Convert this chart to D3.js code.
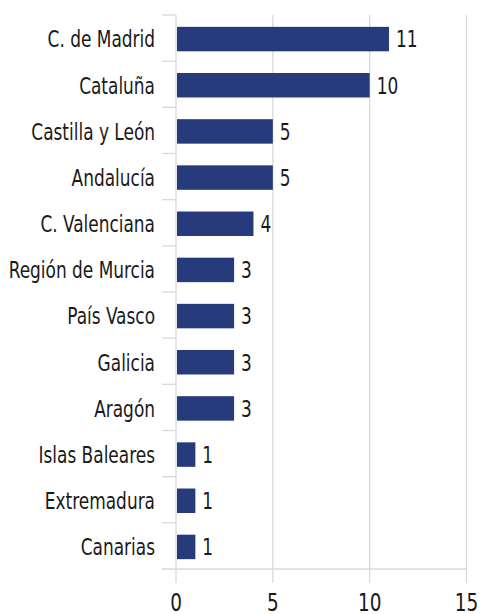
<!DOCTYPE html>
<html><head><meta charset="utf-8">
<script src="https://cdn.jsdelivr.net/npm/d3@7"></script>
<style>
html,body{margin:0;padding:0;background:#fff;}
svg{display:block;}
text{font-family:"DejaVu Sans Condensed","DejaVu Sans",sans-serif;fill:#1a1a1a;}
</style></head>
<body>
<svg id="chart" width="482" height="614"></svg>
<script>
const categories = ["C. de Madrid","Cataluña","Castilla y León","Andalucía","C. Valenciana","Región de Murcia","País Vasco","Galicia","Aragón","Islas Baleares","Extremadura","Canarias"];
const values = [11,10,5,5,4,3,3,3,3,1,1,1];
const xTicks = [0,5,10,15];

const svg = d3.select("#chart");
const x = d3.scaleLinear().domain([0,15]).range([176,466.5]);
const y = d3.scaleBand().domain(categories).range([15,569]).paddingInner(0.47).paddingOuter(0.235);
const grid = "#d9d9d9";
const sx = 0.82;

// vertical gridlines
svg.append("g").selectAll("line").data(xTicks.filter(d=>d>0)).join("line")
  .attr("x1",d=>x(d)).attr("x2",d=>x(d)).attr("y1",15).attr("y2",583)
  .attr("stroke",grid).attr("stroke-width",1.3);

// left axis line
svg.append("line").attr("x1",x(0)).attr("x2",x(0)).attr("y1",15).attr("y2",583)
  .attr("stroke",grid).attr("stroke-width",1.3);
// bottom axis line
svg.append("line").attr("x1",162).attr("x2",x(15)).attr("y1",569).attr("y2",569)
  .attr("stroke",grid).attr("stroke-width",1.3);

// category boundary ticks
const step = y.step();
const bounds = d3.range(categories.length).map(i => y.range()[0] + i*step);
svg.append("g").selectAll("line").data(bounds).join("line")
  .attr("x1",162).attr("x2",x(0)).attr("y1",d=>d).attr("y2",d=>d)
  .attr("stroke",grid).attr("stroke-width",1.3);

// bars
svg.append("g").selectAll("rect").data(values).join("rect")
  .attr("x",x(0)+1).attr("y",(d,i)=>y(categories[i])+1)
  .attr("width",d=>x(d)-x(0)-1).attr("height",y.bandwidth())
  .attr("fill","#263a7c");

// value labels
svg.append("g").selectAll("text").data(values).join("text")
  .attr("transform",(d,i)=>`translate(${x(d)+7},${y(categories[i])+1+y.bandwidth()/2}) scale(${sx},1)`)
  .attr("dy","0.36em").attr("font-size",23).text(d=>d);

// category labels
svg.append("g").selectAll("text").data(categories).join("text")
  .attr("transform",d=>`translate(155,${y(d)+1+y.bandwidth()/2}) scale(${sx},1)`)
  .attr("dy","0.36em").attr("text-anchor","end").attr("font-size",23).text(d=>d);

// x tick labels
svg.append("g").selectAll("text").data(xTicks).join("text")
  .attr("transform",d=>`translate(${x(d)},610.5) scale(${sx},1)`)
  .attr("text-anchor","middle").attr("font-size",25).text(d=>d);
</script>
</body></html>
